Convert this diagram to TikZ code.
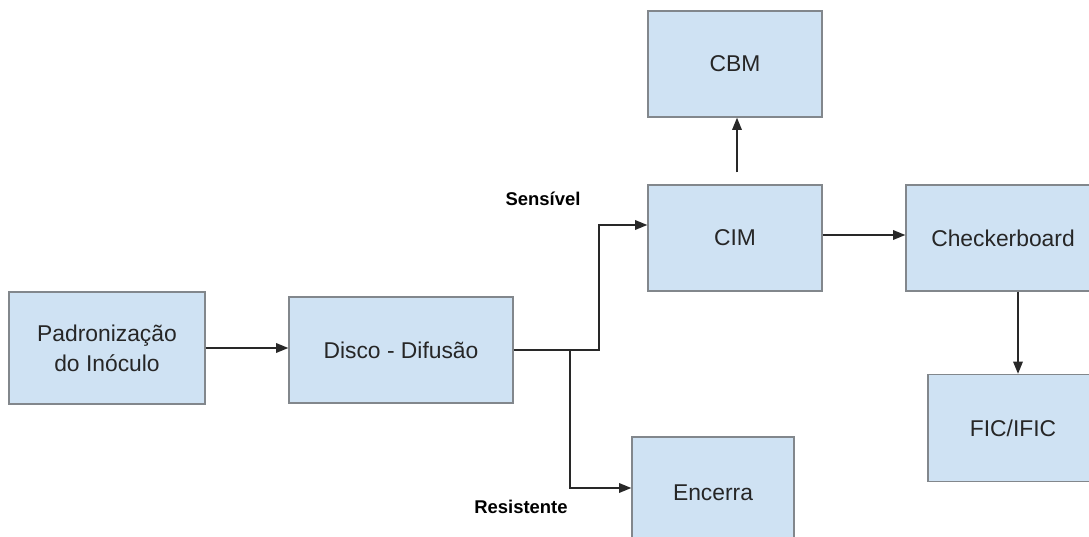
\documentclass[tikz,border=0pt]{standalone}
\usepackage{fontspec}
\setmainfont{Liberation Sans}
\usepackage{tikz}
\usetikzlibrary{%
	calc,%
	arrows.meta
}
\definecolor{boxfill}{RGB}{207,226,243}
\definecolor{boxline}{RGB}{130,135,140}
\definecolor{arrline}{RGB}{40,40,40}
\tikzset{
	box/.style={draw=boxline, fill=boxfill, line width=0.8pt, inner sep=2pt,
		align=center, font=\fontsize{13}{17}\selectfont, text=black!85},
	arr/.style={draw=arrline, line width=0.8pt, -{Triangle[length=7pt, width=5.5pt]}},
	tag/.style={font=\fontsize{10.5}{12}\selectfont\bfseries}
}

\begin{document}
\begin{tikzpicture}[x=0.02cm, y=-0.02cm]
	\useasboundingbox (0,0) rectangle (1089,537);
	\clip (0,0) rectangle (1089,537);
	% Boxes
	\node[box, minimum width=3.92cm, minimum height=2.24cm] (padron) at (107,348) {Padronização\\do Inóculo};
	\node[box, minimum width=4.48cm, minimum height=2.12cm] (disco) at (401,350) {Disco - Difusão};
	\node[box, minimum width=3.48cm, minimum height=2.12cm] (cim) at (735,238) {CIM};
	\node[box, minimum width=3.48cm, minimum height=2.12cm] (cbm) at (735,64) {CBM};
	\node[box, minimum width=3.88cm, minimum height=2.12cm] (checker) at (1003,238) {Checkerboard};
	\node[box, minimum width=3.40cm, minimum height=2.14cm] (fic) at (1013,428) {FIC/IFIC};
	\node[box, minimum width=3.24cm, minimum height=2.24cm] (encerra) at (713,493) {Encerra};
	% Labels
	\node[tag] (sens) at (543,199) {Sensível};
	\node[tag] (resis) at (521,507) {Resistente};
	% Connectors
	\coordinate (split) at (570,350);
	\coordinate (down) at ($(checker.south)+(15,0)$);
	\draw[arr] (padron.east |- 0,348) -- (disco.west |- 0,348);
	\draw[arr] (disco.east) -- (599,350) |- ($(cim.west)+(0,-13)$);
	\draw[arr] (split) |- ($(encerra.west)+(0,-5)$);
	\draw[arr] ($(cim.north)+(2,-12)$) -- ($(cbm.south)+(2,0)$);
	\draw[arr] ($(cim.east)+(0,-3)$) -- ($(checker.west)+(0,-3)$);
	\draw[arr] (down) -- (down |- fic.north);
\end{tikzpicture}
\end{document}
